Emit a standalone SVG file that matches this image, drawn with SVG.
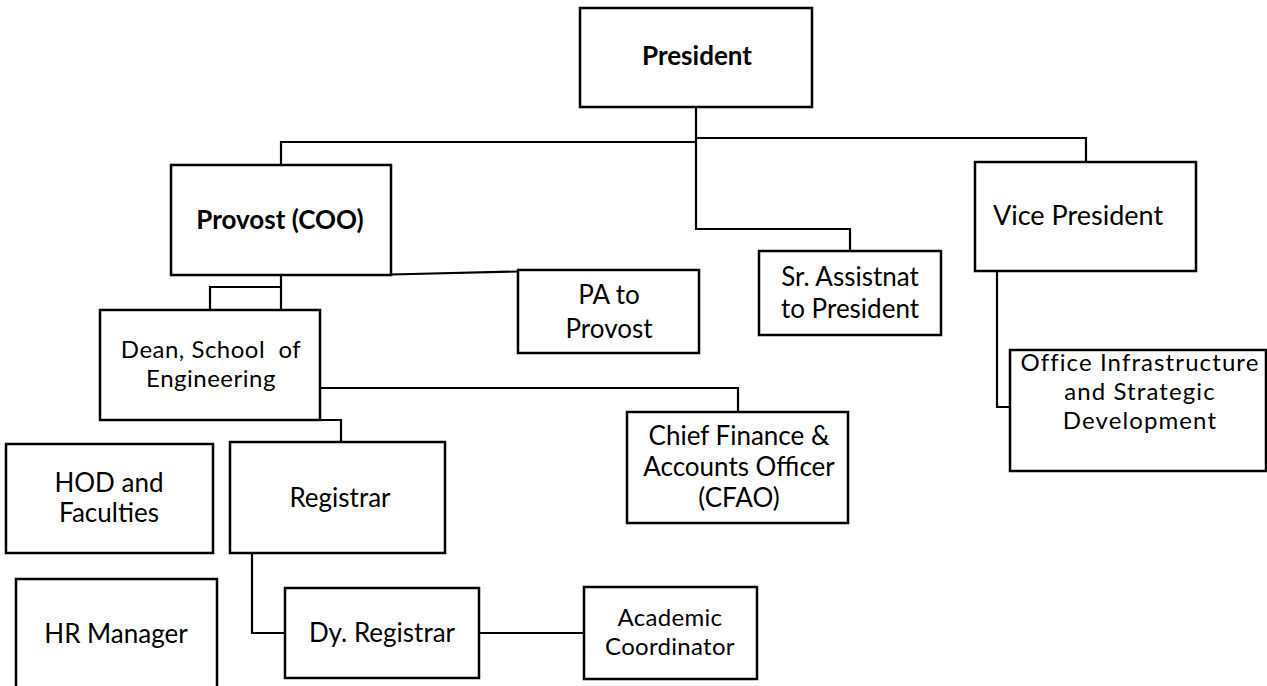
<svg xmlns="http://www.w3.org/2000/svg" width="1267" height="686" viewBox="0 0 1267 686">
<style>
.box{fill:#fff;stroke:#000;stroke-width:2.5}
.ln{fill:none;stroke:#000;stroke-width:2.2}
text{font-family:Lato,"Liberation Sans",sans-serif;font-size:26px;fill:#000;text-anchor:middle}
.b{font-weight:bold;font-size:26px}
.w{font-size:27px}
.t{font-size:24px;letter-spacing:1.1px}
.d{font-size:24px;letter-spacing:0.5px}
.a{font-size:24px;letter-spacing:0.3px}
</style>
<rect width="1267" height="686" fill="#fff"/>
<g id="connectors">
<polyline class="ln" points="696,107 696,229 850,229 850,251"/>
<polyline class="ln" points="696,142 281,142 281,165"/>
<polyline class="ln" points="696,138 1086,138 1086,162"/>
<line class="ln" x1="391" y1="274.5" x2="518" y2="271.5"/>
<line class="ln" x1="281" y1="275" x2="281" y2="310"/>
<polyline class="ln" points="281,287 210,287 210,310"/>
<polyline class="ln" points="320,388 738,388 738,412"/>
<polyline class="ln" points="320,420 341,420 341,442"/>
<polyline class="ln" points="252,553 252,633 285,633"/>
<line class="ln" x1="479" y1="633" x2="584" y2="633"/>
<polyline class="ln" points="997,271 997,407 1010,407"/>
</g>
<g id="president"><rect class="box" x="580" y="8" width="232" height="99"/><text class="b" x="697" y="65">President</text></g>
<g id="provost"><rect class="box" x="171" y="165" width="220" height="110"/><text class="b" x="280" y="229">Provost (COO)</text></g>
<g id="vice-president"><rect class="box" x="975" y="162" width="221" height="109"/><text class="w" x="1078" y="225">Vice President</text></g>
<g id="sr-assistant"><rect class="box" x="759" y="251" width="182" height="84"/><text x="850" y="286">Sr. Assistnat</text><text x="850" y="318">to President</text></g>
<g id="pa-provost"><rect class="box" x="518" y="270" width="181" height="83"/><text x="609" y="304">PA to</text><text x="609" y="338">Provost</text></g>
<g id="dean"><rect class="box" x="100" y="310" width="220" height="110"/><text class="d" x="211" y="358" xml:space="preserve">Dean, School  of</text><text class="d" x="211" y="387">Engineering</text></g>
<g id="office-infra"><rect class="box" x="1010" y="350" width="256" height="121"/><text class="t" x="1140" y="371">Office Infrastructure</text><text class="t" x="1140" y="400">and Strategic</text><text class="t" x="1140" y="429">Development</text></g>
<g id="cfao"><rect class="box" x="627" y="412" width="221" height="111"/><text x="739" y="445">Chief Finance &amp;</text><text x="739" y="476">Accounts Officer</text><text x="739" y="507">(CFAO)</text></g>
<g id="hod"><rect class="box" x="6" y="444" width="207" height="109"/><text x="109" y="492">HOD and</text><text x="109" y="522">Faculties</text></g>
<g id="registrar"><rect class="box" x="230" y="442" width="215" height="111"/><text x="340" y="507">Registrar</text></g>
<g id="hr-manager"><rect class="box" x="16" y="579" width="201" height="120"/><text x="116" y="643">HR Manager</text></g>
<g id="dy-registrar"><rect class="box" x="285" y="588" width="194" height="90"/><text x="382" y="642">Dy. Registrar</text></g>
<g id="academic-coordinator"><rect class="box" x="584" y="587" width="173" height="92"/><text class="a" x="670" y="626">Academic</text><text class="a" x="670" y="655">Coordinator</text></g>
</svg>
